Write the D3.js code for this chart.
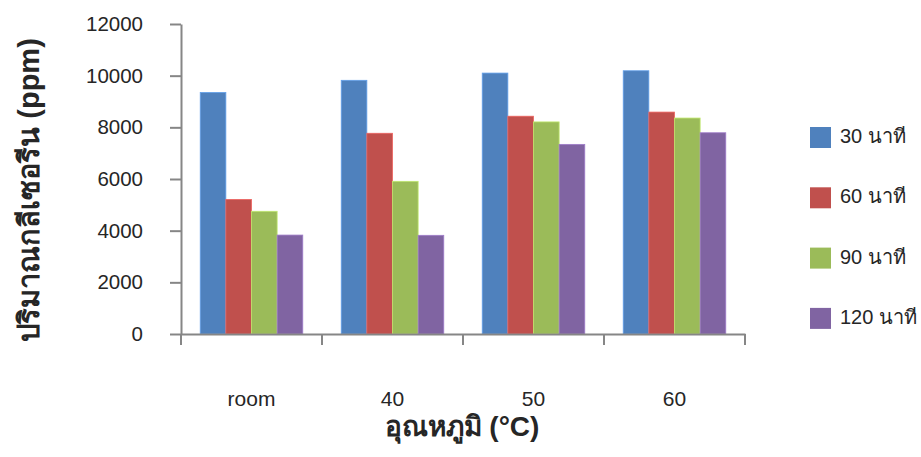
<!DOCTYPE html>
<html>
<head>
<meta charset="utf-8">
<script src="https://cdn.jsdelivr.net/npm/d3@7"></script>
<style>
  body { margin: 0; background: #fff; }
  svg text { font-family: "Liberation Sans", Arial, sans-serif; fill: #262626; }
  .axis path, .axis line { stroke: #868686; stroke-width: 2; }
</style>
</head>
<body>
<div id="chart"></div>
<script>
// data
var categories = ["room", "40", "50", "60"];
var seriesNames = ["30 นาที", "60 นาที", "90 นาที", "120 นาที"];
var values30 = [9350, 9820, 10100, 10190];
var values60 = [5210, 7770, 8430, 8590];
var values90 = [4750, 5910, 8210, 8360];
var values120 = [3830, 3820, 7340, 7790];
var yTicks = [0, 2000, 4000, 6000, 8000, 10000, 12000];
var colors = ["#4F81BD", "#C0504D", "#9BBB59", "#8064A2"];

var allSeries = [values30, values60, values90, values120];

var width = 921, height = 457;
var plot = {left: 181, right: 745, top: 24, bottom: 334};

var svg = d3.select("#chart")
    .append("svg")
    .attr("width", width)
    .attr("height", height);

// scales
var x0 = d3.scaleBand()
    .domain(categories)
    .range([plot.left, plot.right])
    .padding(0);

var x1 = d3.scaleBand()
    .domain(seriesNames)
    .range([0, x0.bandwidth()])
    .paddingInner(0)
    .paddingOuter(0.75);

var y = d3.scaleLinear()
    .domain([0, 12000])
    .range([plot.bottom, plot.top]);

var color = d3.scaleOrdinal(seriesNames, colors);

// bars
var rows = categories.map(function (c, i) {
    return {cat: c, vals: seriesNames.map(function (s, j) {
        return {name: s, value: allSeries[j][i]};
    })};
});

svg.append("g")
    .selectAll("g")
    .data(rows)
    .join("g")
    .attr("transform", d => "translate(" + x0(d.cat) + ",0)")
    .selectAll("rect")
    .data(d => d.vals)
    .join("rect")
    .attr("x", d => x1(d.name))
    .attr("y", d => y(d.value))
    .attr("width", x1.bandwidth())
    .attr("height", d => y(0) - y(d.value))
    .attr("fill", d => color(d.name))
    .attr("stroke", d => d3.color(color(d.name)).brighter(0.6))
    .attr("stroke-width", 0.8);

// y axis
var yAxis = d3.axisLeft(y)
    .tickValues(yTicks)
    .tickSize(11)
    .tickSizeOuter(0)
    .tickPadding(27)
    .tickFormat(d3.format("d"));

svg.append("g")
    .attr("class", "y axis")
    .attr("transform", "translate(" + plot.left + ",0)")
    .call(yAxis)
    .call(g => g.selectAll("text").style("font-size", "20.5px"));

// x axis, ticks on category boundaries
var xAxis = d3.axisBottom(x0)
    .tickSize(0)
    .tickSizeOuter(0)
    .tickPadding(0);

var xg = svg.append("g")
    .attr("class", "x axis")
    .attr("transform", "translate(0," + plot.bottom + ")")
    .call(xAxis);
xg.selectAll(".tick text")
    .attr("y", 72)
    .attr("dy", null)
    .style("font-size", "21px");

var bounds = categories.map(c => x0(c)).concat([x0(categories[categories.length - 1]) + x0.bandwidth()]);
xg.selectAll(".bound")
    .data(bounds)
    .join("line")
    .attr("class", "bound")
    .attr("x1", d => d).attr("x2", d => d)
    .attr("y1", 0).attr("y2", 11);

// axis titles
svg.append("text")
    .attr("x", 462)
    .attr("y", 436)
    .attr("text-anchor", "middle")
    .style("font-size", "28px")
    .style("font-weight", "bold")
    .text("อุณหภูมิ (°C)");

svg.append("text")
    .attr("transform", "translate(39,190) rotate(-90)")
    .attr("text-anchor", "middle")
    .style("font-size", "29px")
    .style("font-weight", "bold")
    .text("ปริมาณกลีเซอรีน (ppm)");

// legend
var legend = svg.append("g")
    .selectAll("g")
    .data(seriesNames)
    .join("g")
    .attr("transform", (d, i) => "translate(810," + (127 + i * 60.3) + ")");

legend.append("rect")
    .attr("width", 21)
    .attr("height", 21)
    .attr("fill", d => color(d));

legend.append("text")
    .attr("x", 30)
    .attr("y", 16)
    .style("font-size", "20px")
    .text(d => d);
</script>
</body>
</html>
